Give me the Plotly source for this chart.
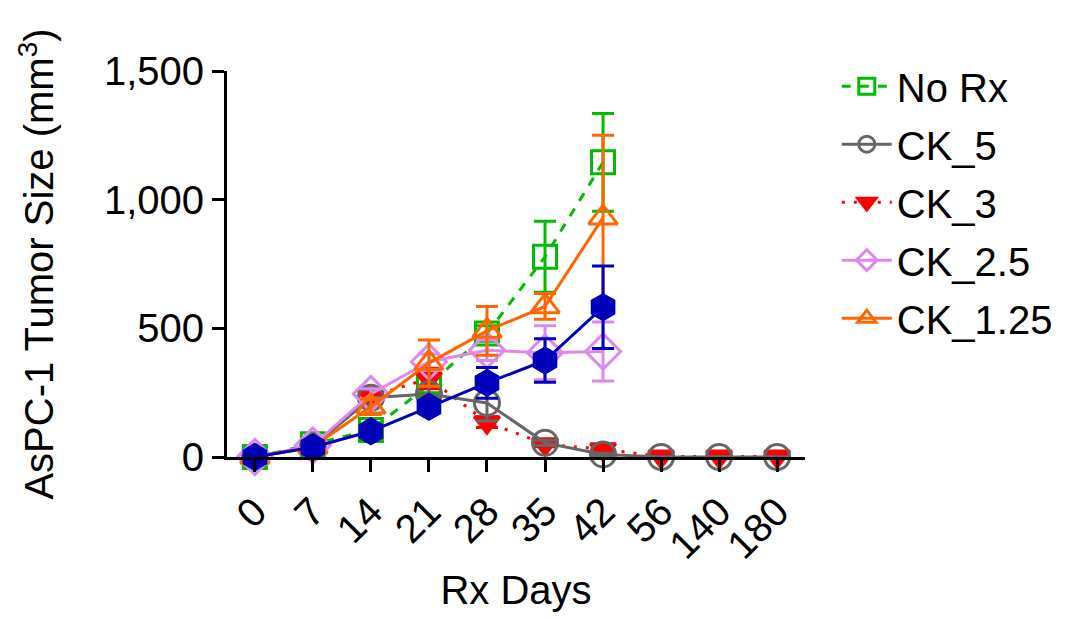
import plotly.graph_objects as go

# Treatment days (categorical axis)
days = ["0", "7", "14", "21", "28", "35", "42", "56", "140", "180"]

# Mean tumor volume (mm^3) and SEM per group
no_rx = [0, 50, 105, 280, 480, 778, 1145, None, None, None]
no_rx_err = [0, 10, 15, 30, 30, 138, 190, 0, 0, 0]

ck_5 = [0, 40, 230, 245, 210, 55, 10, 0, 0, 0]
ck_5_err = [0, 5, 30, 30, 70, 10, 5, 0, 0, 0]

ck_3 = [0, 40, 235, 305, 135, 50, 30, 2, 2, 2]
ck_3_err = [0, 5, 30, 40, 20, 10, 10, 0, 0, 0]

ck_2_5 = [0, 45, 245, 370, 415, 405, 410, None, None, None]
ck_2_5_err = [0, 5, 20, 30, 40, 105, 115, 0, 0, 0]

ck_1_25 = [0, 40, 195, 365, 490, 585, 930, None, None, None]
ck_1_25_err = [0, 5, 30, 90, 95, 50, 320, 0, 0, 0]

combo = [0, 38, 100, 195, 288, 375, 582, None, None, None]
combo_err = [0, 5, 10, 20, 60, 85, 160, 0, 0, 0]

FONT = "Liberation Sans, Arial, sans-serif"

fig = go.Figure()


def add(name, y, err, color, symbol, dash, size, show=True):
    fig.add_trace(go.Scatter(
        x=days, y=y, name=name, mode="lines+markers",
        line=dict(color=color, width=3, dash=dash),
        marker=dict(symbol=symbol, size=size, color=color,
                    line=dict(color=color, width=3)),
        error_y=dict(type="data", array=err, visible=True,
                     color=color, thickness=3, width=11),
        cliponaxis=False, showlegend=show, legendgroup=name,
    ))


add("No Rx", no_rx, no_rx_err, "#00bb00", "square-open", "dash", 23)
add("CK_3", ck_3, ck_3_err, "#ff0000", "triangle-down", "3px,9px", 22)
add("CK_5", ck_5, ck_5_err, "#666666", "circle-open", "solid", 25)
add("CK_2.5", ck_2_5, ck_2_5_err, "#dd88ee", "diamond-open", "solid", 27)
add("CK_1.25", ck_1_25, ck_1_25_err, "#ff6600", "triangle-up-open", "solid", 25)
add("Combination", combo, combo_err, "#0000bb", "hexagon", "solid", 25,
    show=False)

fig.update_layout(
    width=1073, height=618,
    margin=dict(l=227, r=268, t=71, b=161),
    paper_bgcolor="white", plot_bgcolor="white",
    font=dict(family=FONT, size=40, color="black"),
    showlegend=True,
    legend=dict(
        x=1.055, y=1.045, xanchor="left", yanchor="top",
        font=dict(size=40), tracegroupgap=3, itemwidth=50,
        traceorder="grouped", bgcolor="rgba(0,0,0,0)",
    ),
    xaxis=dict(
        type="category", categoryorder="array", categoryarray=days,
        range=[-0.48, 9.48], showgrid=False, zeroline=False,
        showline=True, linecolor="black", linewidth=3,
        ticks="outside", ticklen=12, tickwidth=3, tickcolor="black",
        tickangle=-45, tickfont=dict(size=40), automargin=False,
        title=dict(text="Rx Days", font=dict(size=40), standoff=11),
    ),
    yaxis=dict(
        range=[0, 1500], tickvals=[0, 500, 1000, 1500], tickformat=",",
        showgrid=False, zeroline=False,
        showline=True, linecolor="black", linewidth=3,
        ticks="outside", ticklen=12, tickwidth=3, tickcolor="black",
        tickfont=dict(size=40), automargin=False,
        title=dict(text="AsPC-1 Tumor Size (mm<sup>3</sup>)",
                   font=dict(size=40), standoff=38),
    ),
)

# Legend entries in display order
order = ["No Rx", "CK_5", "CK_3", "CK_2.5", "CK_1.25"]
for i, n in enumerate(order):
    for t in fig.data:
        if t.name == n:
            t.legendrank = i + 1

fig.write_html("out.html")
